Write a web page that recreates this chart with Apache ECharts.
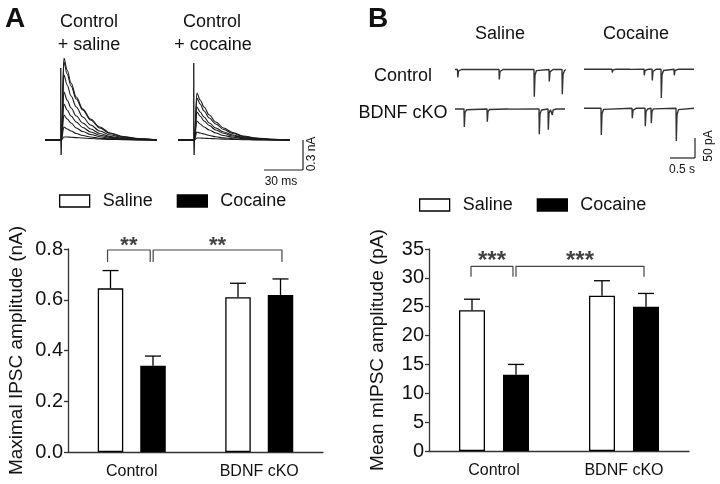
<!DOCTYPE html>
<html><head><meta charset="utf-8">
<script src="https://cdn.jsdelivr.net/npm/echarts@6/dist/echarts.min.js"></script>
<style>html,body{margin:0;padding:0;background:#fff}#c{width:720px;height:484px}</style>
</head><body><div id="c"></div><script>
// ---------- DATA ----------
const categories = ['Control', 'BDNF cKO'];
const groups = ['Saline', 'Cocaine'];
// Panel A: maximal IPSC amplitude (nA)
const ipscSalineMean  = [0.645, 0.61];
const ipscSalineSem   = [0.070, 0.055];
const ipscCocaineMean = [0.340, 0.619];
const ipscCocaineSem  = [0.038, 0.063];
const ipscTicks = [0.0, 0.2, 0.4, 0.6, 0.8];
// Panel B: mean mIPSC amplitude (pA)
const mipscSalineMean  = [24.4, 26.9];
const mipscSalineSem   = [1.9, 2.6];
const mipscCocaineMean = [13.2, 25.0];
const mipscCocaineSem  = [1.8, 2.3];
const mipscTicks = [0, 5, 10, 15, 20, 25, 30, 35];
// Evoked IPSC traces (nA) sampled at these times (ms)
const evokedTime = [12.6, 14.5, 17, 20, 24, 29, 35, 42, 50, 60, 72, 86];
const salineTraces = [
  [0, 0.82, 0.70, 0.57, 0.43, 0.31, 0.21, 0.13, 0.07, 0.035, 0.015, 0],
  [0, 0.78, 0.66, 0.54, 0.41, 0.30, 0.20, 0.12, 0.065, 0.03, 0.012, 0],
  [0, 0.65, 0.55, 0.44, 0.33, 0.23, 0.15, 0.09, 0.05, 0.025, 0.01, 0],
  [0, 0.48, 0.40, 0.32, 0.24, 0.17, 0.11, 0.065, 0.035, 0.018, 0.008, 0],
  [0, 0.36, 0.30, 0.24, 0.18, 0.125, 0.08, 0.048, 0.026, 0.013, 0.005, 0],
  [0, 0.25, 0.21, 0.17, 0.12, 0.085, 0.055, 0.033, 0.018, 0.009, 0.004, 0],
  [0, 0.13, 0.11, 0.09, 0.065, 0.045, 0.03, 0.018, 0.01, 0.005, 0.002, 0],
  [0, 0.03, 0.03, 0.028, 0.024, 0.02, 0.015, 0.01, 0.006, 0.003, 0.001, 0]
];
const cocaineTraces = [
  [0, 0.47, 0.40, 0.33, 0.25, 0.18, 0.12, 0.075, 0.04, 0.02, 0.008, 0],
  [0, 0.42, 0.36, 0.29, 0.22, 0.16, 0.105, 0.065, 0.035, 0.017, 0.007, 0],
  [0, 0.33, 0.28, 0.23, 0.17, 0.12, 0.08, 0.05, 0.027, 0.013, 0.005, 0],
  [0, 0.28, 0.24, 0.19, 0.145, 0.10, 0.067, 0.04, 0.022, 0.011, 0.004, 0],
  [0, 0.19, 0.16, 0.13, 0.10, 0.07, 0.045, 0.028, 0.015, 0.008, 0.003, 0],
  [0, 0.08, 0.07, 0.06, 0.045, 0.032, 0.021, 0.013, 0.007, 0.003, 0.001, 0],
  [0, 0.02, 0.02, 0.018, 0.015, 0.012, 0.009, 0.006, 0.003, 0.001, 0, 0]
];
const salineArtifact  = [[0, 0], [12.1, 0], [12.1, 0.72], [12.2, 0], [12.4, -0.15], [12.6, 0]];
const cocaineArtifact = [[0, 0], [12.1, 0], [12.1, 0.77], [12.2, 0], [12.4, -0.15], [12.6, 0]];
// mIPSC events: [time (s), amplitude (pA)]
const ctrlSalineEvents  = [[0.05, 20], [0.35, 4], [0.88, 25], [1.25, 4], [1.58, 68], [1.88, 30], [2.14, 62]];
const bdnfSalineEvents  = [[0.18, 45], [0.64, 32], [1.05, 5], [1.68, 63], [1.86, 52], [1.94, 15]];
const ctrlCocaineEvents = [[0.56, 8], [0.9, 3], [1.2, 15], [1.36, 28], [1.54, 72], [1.8, 15]];
const bdnfCocaineEvents = [[0.34, 67], [0.96, 25], [1.22, 45], [1.34, 37], [1.84, 82]];

// ---------- BUILD ----------
const FONT = 'Liberation Sans, Arial, Helvetica, sans-serif';
const INK = '#111';
function evokedSeries(traces, idx) {
  return traces.map(vals => ({
    type: 'line', xAxisIndex: idx, yAxisIndex: idx, symbol: 'none', silent: true,
    smooth: 0.35, smoothMonotone: 'x',
    lineStyle: { color: '#1a1a1a', width: 1.1 },
    data: [[0, 0]].concat(evokedTime.map((t, i) => [t, vals[i]]))
  }));
}
function miniTrace(events) {
  const pts = [[0, 0]];
  events.slice().sort((a, b) => a[0] - b[0]).forEach(([t, a]) => {
    pts.push([t, 0], [t + 0.006, -a], [t + 0.02, -a * 0.2], [t + 0.05, -a * 0.04], [t + 0.08, 0]);
  });
  pts.push([2.2, 0]);
  return pts;
}
function errRender(offset) {
  return function (params, api) {
    const top = api.coord([api.value(0), api.value(2)]);
    const base = api.coord([api.value(0), api.value(1)]);
    const x = top[0] + offset;
    const st = { stroke: '#000', lineWidth: 1.3 };
    return { type: 'group', children: [
      { type: 'line', shape: { x1: x, y1: base[1], x2: x, y2: top[1] }, style: st },
      { type: 'line', shape: { x1: x - 8, y1: top[1], x2: x + 8, y2: top[1] }, style: st }
    ]};
  };
}
function errData(mean, sem) { return mean.map((m, i) => [i, m, m + sem[i]]); }

const hidden = { show: false };
const grids = [
  { left: 45, top: 50, width: 112, height: 110 },
  { left: 178, top: 50, width: 112, height: 110 },
  { left: 455, top: 65.5, width: 110, height: 40 },
  { left: 455, top: 105, width: 110, height: 40 },
  { left: 584, top: 65.3, width: 110, height: 40 },
  { left: 584, top: 104.3, width: 110, height: 40 },
  { left: 68, top: 249, width: 255, height: 203 },
  { left: 429, top: 249, width: 260, height: 202 }
];
const xAxes = [], yAxes = [];
for (let i = 0; i < 2; i++) {
  xAxes.push({ gridIndex: i, type: 'value', min: 0, max: 86, ...hidden });
  yAxes.push({ gridIndex: i, type: 'value', min: -0.2, max: 0.9, ...hidden });
}
for (let i = 2; i < 6; i++) {
  xAxes.push({ gridIndex: i, type: 'value', min: 0, max: 2.2, ...hidden });
  yAxes.push({ gridIndex: i, type: 'value', min: -90, max: 10, ...hidden });
}
const catAxis = (g) => ({
  gridIndex: g, type: 'category', data: categories,
  axisLine: { show: true, lineStyle: { color: '#333', width: 1.3 } },
  axisTick: { show: false },
  axisLabel: { fontFamily: FONT, fontSize: 16, color: INK, margin: 12 }
});
const valAxis = (g, max, interval, name, fmt) => ({
  gridIndex: g, type: 'value', min: 0, max: max, interval: interval,
  name: name, nameLocation: 'middle', nameGap: 42,
  nameTextStyle: { fontFamily: FONT, fontSize: 19, color: INK },
  axisLine: { show: true, lineStyle: { color: '#333', width: 1.3 } },
  axisTick: { show: true, length: 4, lineStyle: { color: '#333', width: 1.3 } },
  splitLine: { show: false },
  axisLabel: { fontFamily: FONT, fontSize: 20, color: INK, margin: 5, formatter: fmt }
});
xAxes.push(catAxis(6)); // 6
yAxes.push(valAxis(6, ipscTicks[ipscTicks.length - 1], ipscTicks[1] - ipscTicks[0], 'Maximal IPSC amplitude (nA)', v => v.toFixed(1)));
xAxes.push(catAxis(7)); // 7
yAxes.push(valAxis(7, mipscTicks[mipscTicks.length - 1], mipscTicks[1] - mipscTicks[0], 'Mean mIPSC amplitude (pA)', v => String(v)));
// hidden value x axes for brackets
xAxes.push({ gridIndex: 6, type: 'value', min: 0, max: 2, ...hidden }); // 8
xAxes.push({ gridIndex: 7, type: 'value', min: 0, max: 2, ...hidden }); // 9

const series = [];
series.push(...evokedSeries(salineTraces, 0));
series.push({ type: 'line', xAxisIndex: 0, yAxisIndex: 0, symbol: 'none', silent: true, lineStyle: { color: '#1a1a1a', width: 1.3 }, data: salineArtifact });
series.push(...evokedSeries(cocaineTraces, 1));
series.push({ type: 'line', xAxisIndex: 1, yAxisIndex: 1, symbol: 'none', silent: true, lineStyle: { color: '#1a1a1a', width: 1.3 }, data: cocaineArtifact });
[ctrlSalineEvents, bdnfSalineEvents, ctrlCocaineEvents, bdnfCocaineEvents].forEach((ev, k) => {
  series.push({ type: 'line', xAxisIndex: 2 + k, yAxisIndex: 2 + k, symbol: 'none', silent: true,
    lineStyle: { color: '#333', width: 1.4 }, data: miniTrace(ev) });
});
function barSet(ax, sMean, sSem, cMean, cSem, bw, gap) {
  const off = (bw + gap) / 2;
  return [
    { type: 'bar', name: 'Saline', xAxisIndex: ax, yAxisIndex: ax, data: sMean, barWidth: bw, barGap: (gap / bw * 100) + '%',
      itemStyle: { color: '#fff', borderColor: '#000', borderWidth: 1.3 }, silent: true },
    { type: 'bar', name: 'Cocaine', xAxisIndex: ax, yAxisIndex: ax, data: cMean, barWidth: bw,
      itemStyle: { color: '#000', borderColor: '#000', borderWidth: 1.3 }, silent: true },
    { type: 'custom', xAxisIndex: ax, yAxisIndex: ax, renderItem: errRender(-off), data: errData(sMean, sSem), encode: { x: 0, y: 2 }, z: 5, silent: true },
    { type: 'custom', xAxisIndex: ax, yAxisIndex: ax, renderItem: errRender(off), data: errData(cMean, cSem), encode: { x: 0, y: 2 }, z: 5, silent: true }
  ];
}
series.push(...barSet(6, ipscSalineMean, ipscSalineSem, ipscCocaineMean, ipscCocaineSem, 25.5, 17));
series.push(...barSet(7, mipscSalineMean, mipscSalineSem, mipscCocaineMean, mipscCocaineSem, 26, 18));

// significance brackets: [x1, x2, top, legBottom, label]
const bracketsA = [[0.31, 0.645, 0.796, 0.749, '**'], [0.668, 1.678, 0.796, 0.749, '**']];
const bracketsB = [[0.323, 0.646, 32.0, 30.2, '***'], [0.669, 1.654, 32.0, 30.2, '***']];
function bracketSeries(list, xi, yi, fs) {
  const out = [];
  list.forEach(([x1, x2, top, bot, lab]) => {
    out.push({ type: 'line', xAxisIndex: xi, yAxisIndex: yi, symbol: 'none', silent: true,
      lineStyle: { color: '#444', width: 1.2 }, data: [[x1, bot], [x1, top], [x2, top], [x2, bot]] });
    out.push({ type: 'scatter', xAxisIndex: xi, yAxisIndex: yi, symbolSize: 0, silent: true,
      label: { show: true, position: 'top', distance: -7, formatter: lab, fontFamily: FONT, fontWeight: 'bold', fontSize: fs, color: INK },
      data: [[(x1 + x2) / 2, top]] });
  });
  return out;
}
series.push(...bracketSeries(bracketsA, 8, 6, 22));
series.push(...bracketSeries(bracketsB, 9, 7, 24));

const legendCommon = {
  orient: 'horizontal', itemWidth: 30, itemHeight: 12, itemGap: 24, selectedMode: false, padding: 0,
  textStyle: { fontFamily: FONT, fontSize: 18, color: INK, padding: [0, 0, 0, 8] },
  data: [
    { name: 'Saline', icon: 'rect', itemStyle: { color: '#fff', borderColor: '#000', borderWidth: 1.3 } },
    { name: 'Cocaine', icon: 'rect', itemStyle: { color: '#000', borderColor: '#000', borderWidth: 1.3 } }
  ]
};

function txt(x, y, s, size, opts) {
  return Object.assign({ type: 'text', x: x, y: y, silent: true,
    style: Object.assign({ text: s, fontFamily: FONT, fontSize: size, fill: INK, align: 'center', verticalAlign: 'middle' }, opts || {}) });
}
function ln(x1, y1, x2, y2) {
  return { type: 'line', silent: true, shape: { x1, y1, x2, y2 }, style: { stroke: '#222', lineWidth: 1.2 } };
}
const graphic = [
  txt(15, 19, 'A', 28, { fontWeight: 'bold' }),
  txt(378, 19, 'B', 28, { fontWeight: 'bold' }),
  txt(89, 22, 'Control', 18), txt(89, 45, '+ saline', 18),
  txt(212, 22, 'Control', 18), txt(213, 45, '+ cocaine', 18),
  txt(500, 34, 'Saline', 18), txt(636, 34, 'Cocaine', 18),
  txt(403, 76, 'Control', 18), txt(403, 113, 'BDNF cKO', 18),
  ln(264, 170, 303, 170), ln(303, 140, 303, 170),
  txt(281, 182, '30 ms', 12),
  Object.assign(txt(0, 0, '0.3 nA', 12), { x: 312, y: 154, rotation: Math.PI / 2 }),
  ln(670, 158, 695, 158), ln(695, 138, 695, 158),
  txt(682, 170, '0.5 s', 12),
  Object.assign(txt(0, 0, '50 pA', 12), { x: 709, y: 146, rotation: Math.PI / 2 })
];

const chart = echarts.init(document.getElementById('c'), null, { renderer: 'canvas' });
chart.setOption({
  animation: false,
  backgroundColor: '#fff',
  grid: grids,
  xAxis: xAxes,
  yAxis: yAxes,
  legend: [Object.assign({ left: 59, top: 192 }, legendCommon), Object.assign({ left: 419, top: 196 }, legendCommon)],
  graphic: graphic,
  series: series
});
</script></body></html>
